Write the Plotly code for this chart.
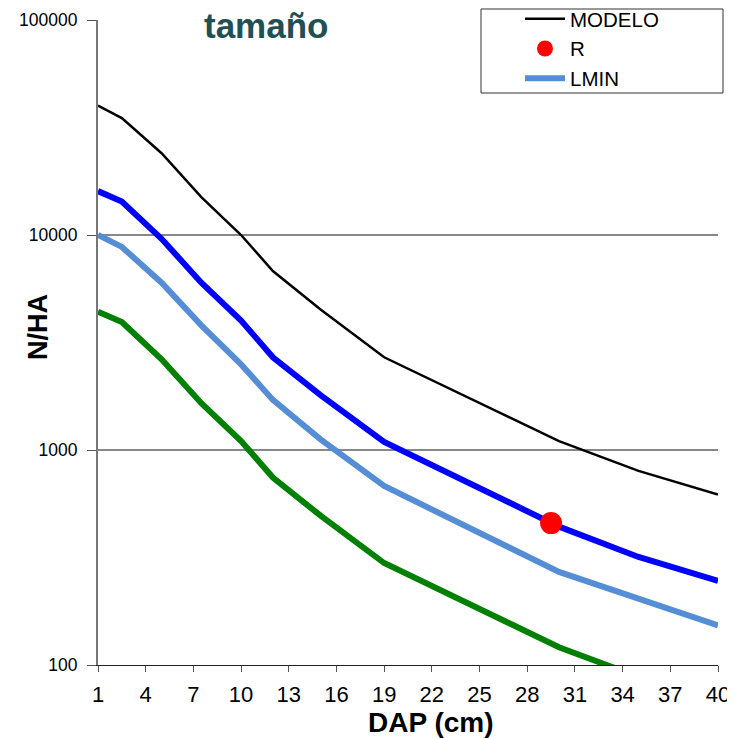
import plotly.graph_objects as go

# ---- data ----
dap = [1, 2.5, 5, 7.5, 10, 12, 15, 19, 30, 35, 40]
modelo = [40000, 35000, 24000, 15000, 10000, 6800, 4500, 2700, 1100, 800, 620]
lmax = [16000, 14300, 9600, 6000, 4000, 2700, 1800, 1090, 440, 318, 246]
lmin = [10000, 8800, 6000, 3800, 2500, 1710, 1120, 680, 271, 205, 153]
lbaja = [4400, 3940, 2640, 1650, 1100, 745, 495, 298, 121, 88, 68]
r_x = [29.5]
r_y = [457]
x_ticks = [1, 4, 7, 10, 13, 16, 19, 22, 25, 28, 31, 34, 37, 40]
y_ticks = [100, 1000, 10000, 100000]
grid_values = [1000, 10000]

FONT = "Liberation Sans, Arial, sans-serif"

# page body margin offset (browser default)
OFF = 8
WIN_W, WIN_H = 735, 739
W, H = WIN_W - OFF, WIN_H - OFF

# plot-area geometry in window pixels
L, R, T, B = 98, 718, 20, 665
PW, PH = R - L, B - T


def px_x(x):
    return (x - L) / PW


def px_y(y):
    return (B - y) / PH


fig = go.Figure()
fig.add_trace(go.Scatter(x=dap, y=lmin, mode="lines", name="LMIN",
                         line=dict(color="#558ED5", width=6), legendrank=3))
fig.add_trace(go.Scatter(x=dap, y=lmax, mode="lines", name="LMAX", showlegend=False,
                         line=dict(color="#0000FF", width=6)))
fig.add_trace(go.Scatter(x=dap, y=lbaja, mode="lines", name="LB", showlegend=False,
                         line=dict(color="#008000", width=6)))
fig.add_trace(go.Scatter(x=dap, y=modelo, mode="lines", name="MODELO",
                         line=dict(color="#000000", width=2.5), legendrank=1))
fig.add_trace(go.Scatter(x=r_x, y=r_y, mode="markers", name="R",
                         marker=dict(color="#FF0000", size=22), legendrank=2))

for g in grid_values:
    fig.add_shape(type="line", xref="paper", x0=0, x1=1, yref="y", y0=g, y1=g,
                  line=dict(color="#111111", width=1), layer="below")

# legend frame
fig.add_shape(type="rect", xref="paper", yref="paper",
              x0=px_x(481), x1=px_x(723), y0=px_y(93), y1=px_y(9),
              line=dict(color="#333333", width=1), fillcolor="white", layer="below")

fig.update_layout(
    width=W, height=H,
    margin=dict(l=L - OFF, r=W - (R - OFF), t=T - OFF, b=H - (B - OFF), autoexpand=False),
    paper_bgcolor="white", plot_bgcolor="rgba(0,0,0,0)",
    font=dict(family=FONT, color="black"),
    showlegend=True,
    legend=dict(x=px_x(520), y=px_y(-1), xanchor="left", yanchor="top",
                bgcolor="rgba(0,0,0,0)", borderwidth=0,
                font=dict(size=20.5, family=FONT), tracegroupgap=0,
                itemwidth=40),
    xaxis=dict(type="linear", range=[1, 40], tickvals=x_ticks, automargin=False,
               ticks="outside", ticklen=6, tickcolor="#555555", tickwidth=1,
               ticklabelstandoff=4,
               showline=True, linecolor="#222222", linewidth=1,
               showgrid=False, zeroline=False,
               tickfont=dict(size=22, family=FONT)),
    yaxis=dict(type="log", range=[2, 5], tickvals=y_ticks, automargin=False,
               ticktext=[str(v) for v in y_ticks],
               ticks="outside", ticklen=9, tickcolor="#555555", tickwidth=1,
               ticklabelstandoff=6,
               showline=True, linecolor="#777777", linewidth=2,
               showgrid=False, zeroline=False,
               tickfont=dict(size=17.5, family=FONT)),
)

fig.add_annotation(text="<b>N/HA</b>", xref="paper", yref="paper",
                   x=px_x(38), y=px_y(327), xanchor="center", yanchor="middle",
                   textangle=-90, showarrow=False,
                   font=dict(size=27, color="black", family=FONT))

fig.add_annotation(text="<b>DAP (cm)</b>", xref="paper", yref="paper",
                   x=px_x(431), y=px_y(722), xanchor="center", yanchor="middle",
                   showarrow=False,
                   font=dict(size=28, color="black", family=FONT))

fig.add_annotation(text="<b>tamaño</b>", xref="paper", yref="paper",
                   x=px_x(266), y=px_y(26), xanchor="center", yanchor="middle",
                   showarrow=False, font=dict(size=35, color="#215054", family=FONT))

fig.write_html("out.html")
